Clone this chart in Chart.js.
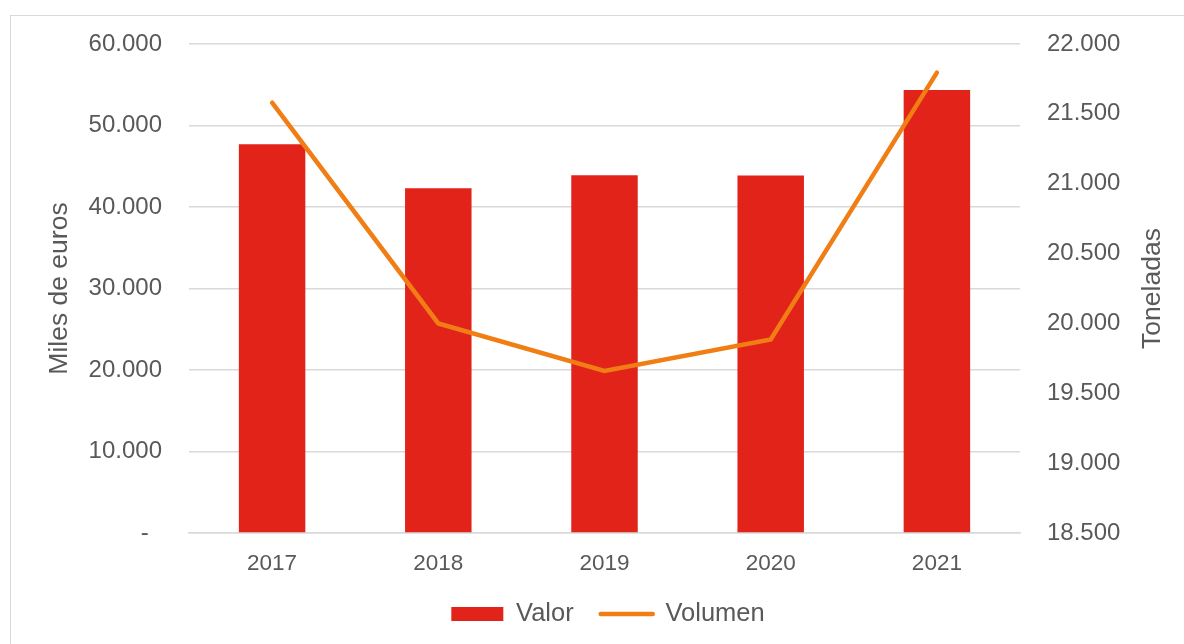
<!DOCTYPE html>
<html>
<head>
<meta charset="utf-8">
<script src="https://cdn.jsdelivr.net/npm/chart.js@4.4.1/dist/chart.umd.min.js"></script>
<style>
  html, body { margin: 0; padding: 0; background: #ffffff; }
  #wrap { position: relative; width: 1184px; height: 644px; overflow: hidden; }
  #frame { position: absolute; left: 10px; top: 15px; width: 1190px; height: 650px; border: 1.5px solid #d9d9d9; box-sizing: border-box; }
  #c { position: absolute; left: 0; top: 0; }
</style>
</head>
<body>
<div id="wrap">
  <div id="frame"></div>
  <canvas id="c" width="1184" height="644"></canvas>
</div>
<script>
const categories = ['2017', '2018', '2019', '2020', '2021'];
const valorMilesEuros = [47700, 42300, 43900, 43850, 54350];
const volumenToneladas = [21580, 20000, 19660, 19885, 21795];
const leftTicks = [0, 10000, 20000, 30000, 40000, 50000, 60000];
const rightTicks = [18500, 19000, 19500, 20000, 20500, 21000, 21500, 22000];

const TEXT = '#595959';
const FONT = 'Liberation Sans, Arial, sans-serif';

function fmt(v) {
  const s = Math.round(v).toString();
  return s.replace(/\B(?=(\d{3})+(?!\d))/g, '.');
}

const rightTitlePlugin = {
  id: 'rightTitle',
  afterDraw(chart) {
    const ctx = chart.ctx;
    const a = chart.chartArea;
    ctx.save();
    ctx.translate(1153, (a.top + a.bottom) / 2);
    ctx.rotate(-Math.PI / 2);
    ctx.font = '26.5px ' + FONT;
    ctx.fillStyle = TEXT;
    ctx.textAlign = 'center';
    ctx.textBaseline = 'middle';
    ctx.fillText('Toneladas', 0, 0);
    ctx.restore();
  }
};

new Chart(document.getElementById('c'), {
  data: {
    labels: categories,
    datasets: [
      {
        type: 'line',
        label: 'Volumen',
        data: volumenToneladas,
        yAxisID: 'y1',
        borderColor: '#F07E14',
        backgroundColor: '#F07E14',
        borderWidth: 4.5,
        borderCapStyle: 'round',
        borderJoinStyle: 'miter',
        pointRadius: 0,
        pointHoverRadius: 0,
        tension: 0,
        order: 1
      },
      {
        type: 'bar',
        label: 'Valor',
        data: valorMilesEuros,
        yAxisID: 'y',
        backgroundColor: '#E2231A',
        borderWidth: 0,
        barPercentage: 0.4,
        categoryPercentage: 1.0,
        order: 2
      }
    ]
  },
  options: {
    responsive: false,
    animation: false,
    layout: { padding: { left: 32, right: 0, top: 44, bottom: 7.25 } },
    plugins: {
      tooltip: { enabled: false },
      legend: {
        position: 'bottom',
        reverse: true,
        labels: {
          color: TEXT,
          font: { family: FONT, size: 25.5 },
          usePointStyle: true,
          pointStyleWidth: 52,
          boxHeight: 14,
          padding: 27,
          generateLabels(chart) {
            const items = Chart.defaults.plugins.legend.labels.generateLabels(chart);
            items.forEach(it => {
              if (it.text === 'Valor') {
                it.pointStyle = 'rect';
                it.lineWidth = 0;
                it.fillStyle = '#E2231A';
                it.strokeStyle = '#E2231A';
              } else {
                it.pointStyle = 'line';
                it.lineWidth = 4.5;
                it.lineCap = 'round';
                it.strokeStyle = '#F07E14';
              }
            });
            return items;
          }
        }
      }
    },
    scales: {
      x: {
        grid: { display: false, drawTicks: false },
        border: { display: true, color: '#d9d9d9', width: 1.5 },
        ticks: { color: TEXT, font: { family: FONT, size: 22.5 }, padding: 17, maxRotation: 0 },
        afterFit(s) { s.height = 41.25; }
      },
      y: {
        position: 'left',
        min: 0,
        max: 60000,
        afterBuildTicks(s) { s.ticks = leftTicks.map(v => ({ value: v })); },
        grid: { color: '#d9d9d9', lineWidth: 1.5, drawTicks: false },
        border: { display: false },
        ticks: {
          color: TEXT,
          font: { family: FONT, size: 24 },
          padding: 27,
          callback: v => v === 0 ? '-  ' : fmt(v)
        },
        title: {
          display: true,
          text: 'Miles de euros',
          color: TEXT,
          font: { family: FONT, size: 26.5 },
          padding: { top: 12, bottom: 0 }
        },
        afterFit(s) { s.width = 157; }
      },
      y1: {
        position: 'right',
        min: 18500,
        max: 22000,
        afterBuildTicks(s) { s.ticks = rightTicks.map(v => ({ value: v })); },
        grid: { display: false, drawTicks: false },
        border: { display: false },
        ticks: {
          color: TEXT,
          font: { family: FONT, size: 24 },
          padding: 27,
          callback: v => fmt(v)
        },
        afterFit(s) { s.width = 164; }
      }
    }
  },
  plugins: [rightTitlePlugin]
});
</script>
</body>
</html>
